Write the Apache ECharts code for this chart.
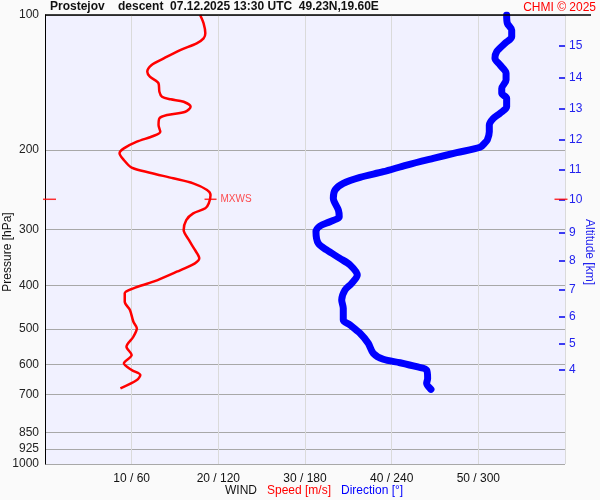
<!DOCTYPE html>
<html>
<head>
<meta charset="utf-8">
<script src="https://cdn.jsdelivr.net/npm/echarts@6/dist/echarts.min.js"></script>
<style>
html,body{margin:0;padding:0;background:#fafafa;}
#chart{width:600px;height:500px;}
</style>
</head>
<body>
<div id="chart"></div>
<script>
// ---- data ----
const pressureTicks = [100, 200, 300, 400, 500, 600, 700, 850, 925, 1000];
const speedTicks = [10, 20, 30, 40, 50];
const altitudeKm = [4, 5, 6, 7, 8, 9, 10, 11, 12, 13, 14, 15];
const altitudePressure = [617.6, 540.5, 468.8, 408.2, 351.9, 304.8, 258.2, 220.7, 189.2, 161.4, 137.9, 117.0];

const speedPressure = [100, 104.4, 109.8, 112.7, 115.6, 119.7, 124.9, 129.2, 133.8, 137.2, 142.0, 148.2, 152.1, 154.1, 156.0, 160.1, 164.2, 167.0, 169.9, 175.8, 182.0, 186.0, 191.5, 198.2, 203.2, 210.4, 218.8, 224.5, 231.0, 237.1, 245.3, 251.7, 262.6, 269.5, 276.5, 286.2, 301.2, 317.0, 333.7, 348.3, 357.3, 373.0, 392.6, 406.2, 416.7, 435.1, 453.9, 482.2, 498.8, 520.7, 548.1, 571.9, 596.8, 617.7, 633.8, 650.2, 678.7];
const speedValues = [17.9, 18.3, 18.5, 18.3, 17.5, 15.6, 13.7, 12.3, 11.8, 12.1, 13.1, 13.2, 13.5, 14.5, 16.0, 16.8, 16.2, 14.1, 13.2, 13.1, 13.3, 12.5, 10.6, 9.1, 8.6, 9.1, 10.0, 12.1, 14.8, 17.1, 18.7, 19.1, 18.9, 18.5, 17.1, 16.3, 16.0, 16.6, 17.3, 17.8, 17.3, 15.2, 12.5, 10.2, 9.2, 9.2, 9.8, 10.2, 10.6, 10.2, 9.4, 10.0, 9.1, 10.0, 11.0, 10.6, 8.7];

const dirPressure = [100, 104.4, 108.0, 111.8, 115.6, 120.7, 124.9, 129.2, 134.8, 139.6, 145.7, 149.4, 153.3, 160.1, 165.6, 169.9, 175.8, 182.0, 189.9, 192.5, 197.1, 202.6, 208.6, 215.9, 223.4, 229.9, 237.1, 245.3, 256.0, 271.8, 281.3, 288.7, 295.1, 303.8, 322.5, 333.7, 348.3, 360.5, 379.5, 396.0, 409.7, 431.4, 450.0, 477.9, 490.3, 511.6, 538.5, 566.9, 584.6, 594.9, 607.3, 617.7, 644.7, 661.2, 681.9];
const dirValues = [319.6, 320.1, 323.1, 323.1, 318.5, 312.7, 311.5, 315.0, 319.2, 319.2, 316.2, 316.2, 319.6, 319.6, 315.0, 310.4, 307.6, 307.6, 306.2, 304.6, 301.2, 285.0, 268.8, 250.4, 234.2, 218.1, 206.5, 200.8, 199.6, 203.1, 203.7, 197.3, 190.4, 187.6, 189.2, 195.0, 204.2, 211.2, 216.2, 212.3, 207.7, 205.4, 206.5, 206.5, 211.2, 218.1, 223.8, 227.3, 234.2, 245.8, 257.3, 264.2, 264.9, 264.2, 267.2];

const maxWindSpeed = 19.1;
const maxWindPressure = 257.3;

// ---- chart ----
const FONT = "'Liberation Sans', Arial, sans-serif";
const chart = echarts.init(document.getElementById('chart'), null, {renderer: 'canvas'});

const speedSeries = speedPressure.map((p, i) => [speedValues[i], p]);
const dirSeries = dirPressure.map((p, i) => [dirValues[i], p]);

const option = {
  backgroundColor: '#fafafa',
  animation: false,
  textStyle: {fontFamily: FONT},
  title: [
    {text: 'Prostejov    descent  07.12.2025 13:30 UTC  49.23N,19.60E', left: 50, top: 1, padding: 0,
     textStyle: {fontFamily: FONT, fontSize: 12, fontWeight: 'bold', color: '#111'}},
    {text: 'CHMI \u00a9 2025', right: 4, top: 2, padding: 0,
     textStyle: {fontFamily: FONT, fontSize: 12, fontWeight: 'normal', color: '#ff0000'}},
    {text: '{a|WIND}   {b|Speed [m/s]}   {c|Direction [\u00b0]}', left: 225, top: 485, padding: 0,
     textStyle: {fontFamily: FONT, fontSize: 12, fontWeight: 'normal',
       rich: {a: {color: '#111', fontSize: 12, fontFamily: FONT},
              b: {color: '#ff0000', fontSize: 12, fontFamily: FONT},
              c: {color: '#0000ff', fontSize: 12, fontFamily: FONT}}}}
  ],
  grid: {left: 45, right: 35, top: 15, bottom: 36, show: true, backgroundColor: '#f1f1ff', borderWidth: 0, containLabel: false},
  xAxis: [
    {type: 'value', min: 0, max: 60, interval: 10, position: 'bottom',
     axisLine: {show: false, onZero: false}, axisTick: {show: false},
     splitLine: {show: true, lineStyle: {color: '#dadada', width: 1}},
     axisLabel: {show: true, showMinLabel: false, showMaxLabel: false, margin: 9,
       fontFamily: FONT, fontSize: 12, color: '#111',
       formatter: v => speedTicks.indexOf(v) >= 0 ? v + ' / ' + (v * 6) : ''}},
    {type: 'value', min: 0, max: 360, show: false, axisLine: {onZero: false}}
  ],
  yAxis: [
    {type: 'log', logBase: 10, min: 100, max: 1000, inverse: true, position: 'left',
     axisLine: {show: true, onZero: false, lineStyle: {color: '#000', width: 1}},
     axisTick: {show: false, customValues: pressureTicks},
     splitLine: {show: true, lineStyle: {color: '#a8a8a8', width: 1}},
     axisLabel: {customValues: pressureTicks, margin: 6, fontFamily: FONT, fontSize: 12, color: '#222',
       formatter: v => String(Math.round(v))}},
    {type: 'log', logBase: 10, min: 100, max: 1000, inverse: true, position: 'right',
     axisLine: {show: false, onZero: false},
     axisTick: {show: true, inside: true, length: 6, customValues: altitudePressure, lineStyle: {color: '#0000ee', width: 1.5}},
     splitLine: {show: false},
     axisLabel: {customValues: altitudePressure, margin: 4, fontFamily: FONT, fontSize: 12, color: '#2222ee',
       formatter: v => { const i = altitudePressure.findIndex(p => Math.abs(p - v) < 0.5); return i >= 0 ? String(altitudeKm[i]) : ''; }}}
  ],
  graphic: [
    {type: 'line', shape: {x1: 45, y1: 15, x2: 591, y2: 15}, style: {stroke: '#000', lineWidth: 1.5}, z: 100},
    {type: 'text', x: 8, y: 252, rotation: Math.PI / 2,
     style: {text: 'Pressure [hPa]', fill: '#111', font: '12px ' + FONT, align: 'center', verticalAlign: 'middle'}},
    {type: 'text', x: 589, y: 252, rotation: -Math.PI / 2,
     style: {text: 'Altitude [km]', fill: '#2222ee', font: '12px ' + FONT, align: 'center', verticalAlign: 'middle'}}
  ],
  series: [
    {name: 'Direction', type: 'line', xAxisIndex: 1, yAxisIndex: 0, data: dirSeries,
     showSymbol: false, smooth: 0.3, lineStyle: {color: '#0000ff', width: 7, cap: 'round', join: 'round'}, z: 3},
    {name: 'Speed', type: 'line', xAxisIndex: 0, yAxisIndex: 0, data: speedSeries,
     showSymbol: false, smooth: 0.3, lineStyle: {color: '#ff0000', width: 2.5}, z: 4},
    {name: 'MXWS', type: 'scatter', xAxisIndex: 0, yAxisIndex: 0, clip: false,
     data: [[maxWindSpeed, maxWindPressure]], symbol: 'rect', symbolSize: [12, 1.5],
     itemStyle: {color: '#ff0000'},
     label: {show: true, position: 'right', distance: 4, formatter: 'MXWS', color: '#ff2020', fontSize: 10, fontFamily: FONT}, z: 5},
    {name: 'MXWS left', type: 'scatter', xAxisIndex: 0, yAxisIndex: 0, clip: false,
     data: [[0, maxWindPressure]], symbol: 'rect', symbolSize: [13, 1.5], symbolOffset: [4.5, 0],
     itemStyle: {color: '#ff0000'}, z: 5},
    {name: 'MXWS right', type: 'scatter', xAxisIndex: 0, yAxisIndex: 0, clip: false,
     data: [[60, maxWindPressure]], symbol: 'rect', symbolSize: [13, 1.5], symbolOffset: [-4, 0],
     itemStyle: {color: '#ff0000'}, z: 5}
  ]
};
chart.setOption(option);
</script>
</body>
</html>
